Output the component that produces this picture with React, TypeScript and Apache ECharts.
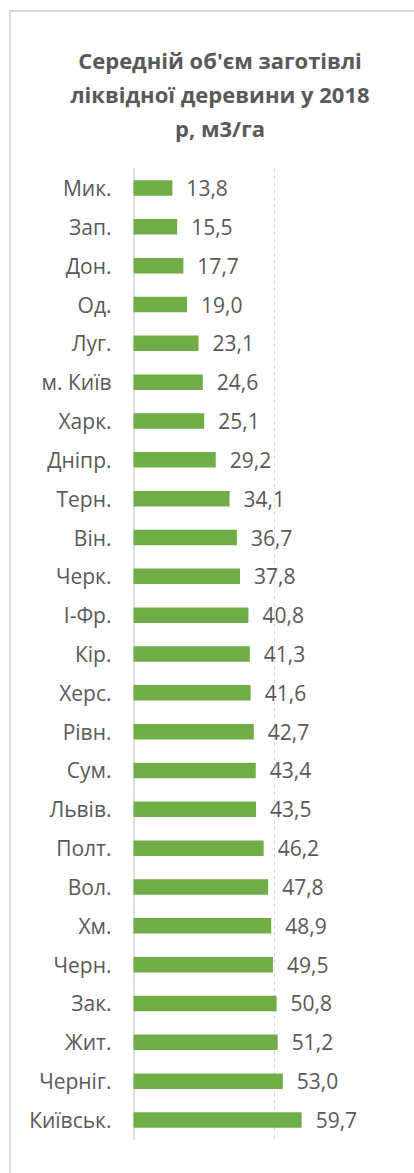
import React, { useEffect, useRef } from "react";
import * as echarts from "echarts";

const categories = [
  "Мик.", "Зап.", "Дон.", "Од.", "Луг.", "м. Київ", "Харк.", "Дніпр.", "Терн.", "Він.",
  "Черк.", "І-Фр.", "Кір.", "Херс.", "Рівн.", "Сум.", "Львів.", "Полт.", "Вол.", "Хм.",
  "Черн.", "Зак.", "Жит.", "Черніг.", "Київськ.",
];
const values = [
  13.8, 15.5, 17.7, 19.0, 23.1, 24.6, 25.1, 29.2, 34.1, 36.7,
  37.8, 40.8, 41.3, 41.6, 42.7, 43.4, 43.5, 46.2, 47.8, 48.9,
  49.5, 50.8, 51.2, 53.0, 59.7,
];
const titleText = "Середній об'єм заготівлі\nліквідної деревини у 2018\nр, м3/га";

export default function App() {
  const ref = useRef<HTMLDivElement>(null);
  useEffect(() => {
    if (!ref.current) return;
    const chart = echarts.init(ref.current, undefined, { renderer: "svg" });
    const font = "'Open Sans', sans-serif";
    chart.setOption({
      animation: false,
      title: {
        text: titleText,
        left: "center",
        top: 43,
        padding: 0,
        textStyle: {
          fontFamily: font,
          fontSize: 22,
          fontWeight: "bold",
          color: "#595959",
          lineHeight: 34,
        },
      },
      grid: { left: 133.5, right: 24.8, top: 168.6, bottom: 33.6, containLabel: false },
      xAxis: {
        type: "value",
        min: 0,
        max: 100,
        interval: 50,
        axisLabel: { show: false },
        axisLine: { show: false },
        axisTick: { show: false },
        splitLine: { show: true, lineStyle: { color: "#d9d9d9", type: [4, 3], width: 1 } },
      },
      yAxis: {
        type: "category",
        data: categories,
        inverse: true,
        axisTick: { show: false },
        axisLine: { show: true, lineStyle: { color: "#d9d9d9", width: 1.5 } },
        axisLabel: { fontFamily: font, fontSize: 21, color: "#595959", margin: 22 },
      },
      series: [
        {
          type: "bar",
          data: values,
          barWidth: 15.5,
          itemStyle: { color: "#70ad47" },
          label: {
            show: true,
            position: "right",
            distance: 14,
            fontFamily: font,
            fontSize: 21,
            color: "#595959",
            formatter: (p: any) => Number(p.value).toFixed(1).replace(".", ","),
          },
        },
      ],
    });
    return () => chart.dispose();
  }, []);
  return (
    <div style={{ position: "absolute", left: 0, top: 0, width: 414, height: 1173, overflow: "hidden", background: "#ffffff" }}>
      <div
        style={{
          position: "absolute",
          left: 9,
          top: 10,
          width: 600,
          height: 1400,
          borderLeft: "2px solid #d9d9d9",
          borderTop: "2px solid #d9d9d9",
          boxSizing: "border-box",
        }}
      />
      <div ref={ref} style={{ position: "absolute", left: 0, top: 0, width: 440, height: 1173 }} />
    </div>
  );
}
